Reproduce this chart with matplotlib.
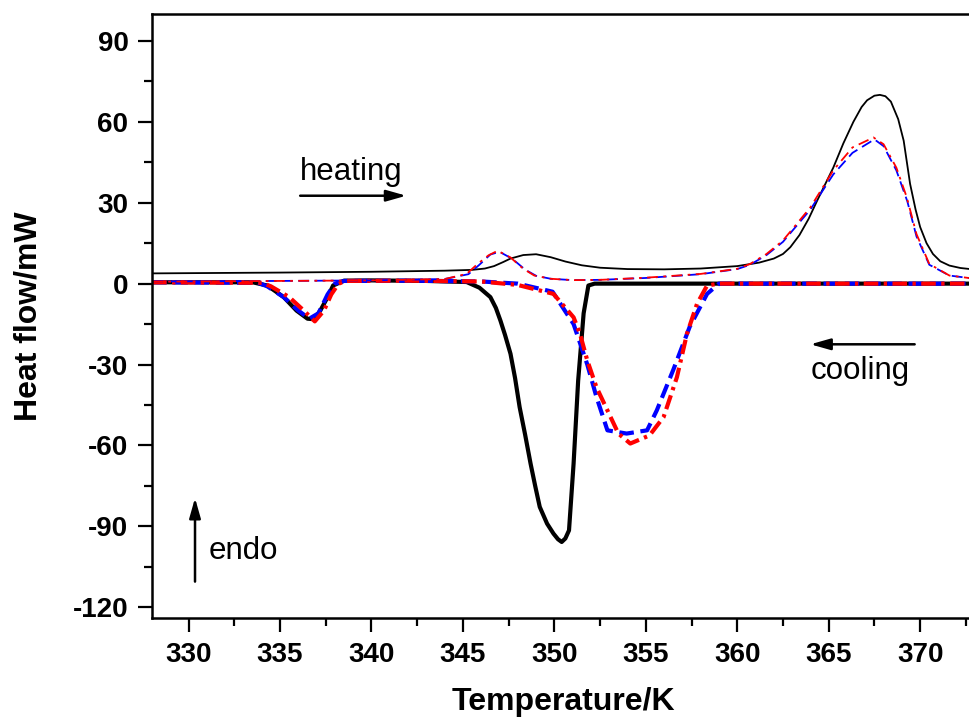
import matplotlib
matplotlib.use('Agg')
import matplotlib.pyplot as plt
from matplotlib.ticker import MultipleLocator

plt.rcParams['font.family'] = ['Liberation Sans', 'DejaVu Sans']
plt.rcParams['axes.unicode_minus'] = False

# heating runs (thin lines)
heat_black_T = [328, 335, 340, 344, 345.5, 346.2, 346.7, 347.2, 347.6, 348.3, 349.0, 349.8, 350.6, 351.5,
                352.5, 354, 356, 358, 360, 361.2, 362.0, 362.5, 362.9, 363.4, 363.9, 364.35, 365.25,
                365.8, 366.35, 366.8, 367.1, 367.5, 367.8, 368.1, 368.4, 368.8, 369.1, 369.45,
                369.75, 370.0, 370.35, 370.7, 371.1, 371.6, 372.2, 373]
heat_black_Q = [3.8, 4.1, 4.4, 4.8, 5.1, 5.6, 6.5, 8.0, 9.3, 10.6, 10.9, 9.8, 8.2, 6.8,
                5.9, 5.4, 5.3, 5.6, 6.5, 7.8, 9.3, 11, 13.5, 18, 24, 30.5, 43,
                52, 60, 65.5, 68, 69.7, 70, 69.5, 67.5, 61, 53, 37,
                27.5, 21, 15, 11, 8.3, 6.7, 5.8, 5.2]

heat_red_T = [328, 335, 340, 344, 345.2, 345.8, 346.4, 346.9, 347.6, 348.3, 348.9, 349.8, 351,
              352.5, 355, 358, 360, 360.7, 361.6, 362.5, 364, 365.25, 366.3, 367.45, 368, 368.7,
              369.27, 369.8, 370.5, 371.6, 373]
heat_red_Q = [0.7, 1.0, 1.2, 1.7, 3.6, 7.3, 10.5, 12.2, 9.7, 5.5, 3.0, 1.8, 1.3,
              1.4, 2.2, 3.6, 5.5, 7.3, 11, 16, 28.3, 42, 50.5, 54.2, 51.7, 43,
              32, 18.4, 7.3, 3, 1.8]

heat_blue_T = [328, 335, 340, 344, 345.3, 345.9, 346.5, 347.0, 347.7, 348.4, 349.0, 349.8, 351,
               352.5, 355, 358, 360, 360.7, 361.6, 362.5, 364, 365.25, 366.3, 367.5, 368.0, 368.7,
               369.3, 369.8, 370.5, 371.6, 373]
heat_blue_Q = [0.8, 1.0, 1.2, 1.7, 3.5, 7.0, 10.8, 11.8, 9.2, 5.2, 2.9, 1.8, 1.3,
               1.4, 2.1, 3.5, 5.4, 7.0, 10.6, 15.5, 27.5, 40.5, 48.5, 53.5, 51, 42,
               30.5, 17.5, 7.0, 3.0, 1.8]

# cooling runs (thick lines)
cool_black_T = [328, 333.5, 334.3, 335.2, 335.9, 336.5, 336.85, 337.2, 337.6, 337.9, 338.5, 340, 343,
                345.2, 345.9, 346.5, 346.8, 347.05, 347.3, 347.6, 347.85, 348.1, 348.4, 348.7, 348.95,
                349.2, 349.6, 349.95, 350.2, 350.4, 350.6, 350.8, 351.05, 351.3, 351.6, 351.86, 352.2, 373]
cool_black_Q = [0.5, 0.5, -0.7, -5, -10, -13, -13.2, -10, -5, -0.7, 1.1, 1.2, 1.0,
                0.6, -1.5, -5, -9, -13.7, -19, -26, -35, -45.8, -56, -66.8, -75,
                -82.8, -89, -92.7, -94.8, -95.8, -94.5, -91.5, -66.8, -36, -11, -0.7, 0, 0]

cool_red_T = [328, 334.0, 334.5, 335.5, 336.3, 336.9, 337.4, 337.8, 338.2, 338.6, 342, 346, 348,
              349.95, 351.05, 351.4, 351.8, 352.3, 352.9, 353.5, 354.15, 355.2, 355.97, 356.7,
              357.25, 357.8, 358.35, 359, 373]
cool_red_Q = [0.5, 0.3, -1, -5, -10, -14, -10, -4, 0, 1, 1.1, 0.8, -0.5,
              -3.8, -12.5, -18.6, -28.5, -38.4, -47, -55.6, -59.3, -56.3, -49.5, -34.7,
              -18.6, -7.5, -0.7, 0, 0]

cool_blue_T = [328, 333.8, 334.3, 335.2, 336.0, 336.6, 337.1, 337.6, 338, 338.5, 342, 346, 348,
               349.9, 351.05, 351.8, 352.3, 352.9, 353.95, 355.07, 355.6, 356.5, 357.4, 358.35,
               359, 373]
cool_blue_Q = [0.5, 0.3, -1, -5, -10, -13, -11, -4, 0, 1, 1.1, 0.8, 0,
               -3, -15, -30, -42, -54.4, -55.6, -54.4, -47, -32, -16, -3.8,
               0, 0]

fig = plt.figure(figsize=(9.69, 7.24), dpi=100)
ax = fig.add_axes([0.1569, 0.1464, 0.8493, 0.8343])

ax.plot(cool_black_T, cool_black_Q, color='black', linewidth=3.0)
ax.plot(cool_blue_T, cool_blue_Q, color='blue', linewidth=3.0, linestyle=(0, (3.5, 1.6)))
ax.plot(cool_red_T, cool_red_Q, color='red', linewidth=3.0, linestyle=(0, (3.5, 1.3, 0.8, 1.3)))

ax.plot(heat_black_T, heat_black_Q, color='black', linewidth=1.3)
ax.plot(heat_blue_T, heat_blue_Q, color='blue', linewidth=1.3, linestyle=(0, (6, 3)))
ax.plot(heat_red_T, heat_red_Q, color='red', linewidth=1.3, linestyle=(0, (6, 3, 1.5, 3)))

ax.set_xlim(328, 373)
ax.set_ylim(-124, 100)
ax.xaxis.set_major_locator(MultipleLocator(5))
ax.xaxis.set_minor_locator(MultipleLocator(2.5))
ax.yaxis.set_major_locator(MultipleLocator(30))
ax.yaxis.set_minor_locator(MultipleLocator(15))
ax.tick_params(which='major', direction='out', length=10, width=1.6, pad=7, labelsize=20)
ax.tick_params(which='minor', direction='out', length=5.5, width=1.6)
for lab in ax.get_xticklabels() + ax.get_yticklabels():
    lab.set_fontweight('bold')
for sp in ax.spines.values():
    sp.set_linewidth(1.8)

ax.set_xlabel('Temperature/K', fontsize=23, fontweight='bold', labelpad=14)
ax.set_ylabel('Heat flow/mW', fontsize=23, fontweight='bold', labelpad=21)

arrow = dict(arrowstyle='-|>,head_length=0.6,head_width=0.17', color='black', lw=1.8,
             shrinkA=0, shrinkB=0, mutation_scale=20)
ax.annotate('', xy=(341.9, 32.6), xytext=(336.1, 32.6), arrowprops=arrow)
ax.text(336.1, 41.5, 'heating', fontsize=22.5, ha='left', va='center')
ax.annotate('', xy=(364.0, -22.5), xytext=(369.7, -22.5), arrowprops=arrow)
ax.text(364.0, -32.5, 'cooling', fontsize=22.5, ha='left', va='center')
ax.annotate('', xy=(330.35, -79.5), xytext=(330.35, -110.5), arrowprops=arrow)
ax.text(331.1, -99, 'endo', fontsize=22.5, ha='left', va='center')

fig.savefig('out.png', dpi=100)
